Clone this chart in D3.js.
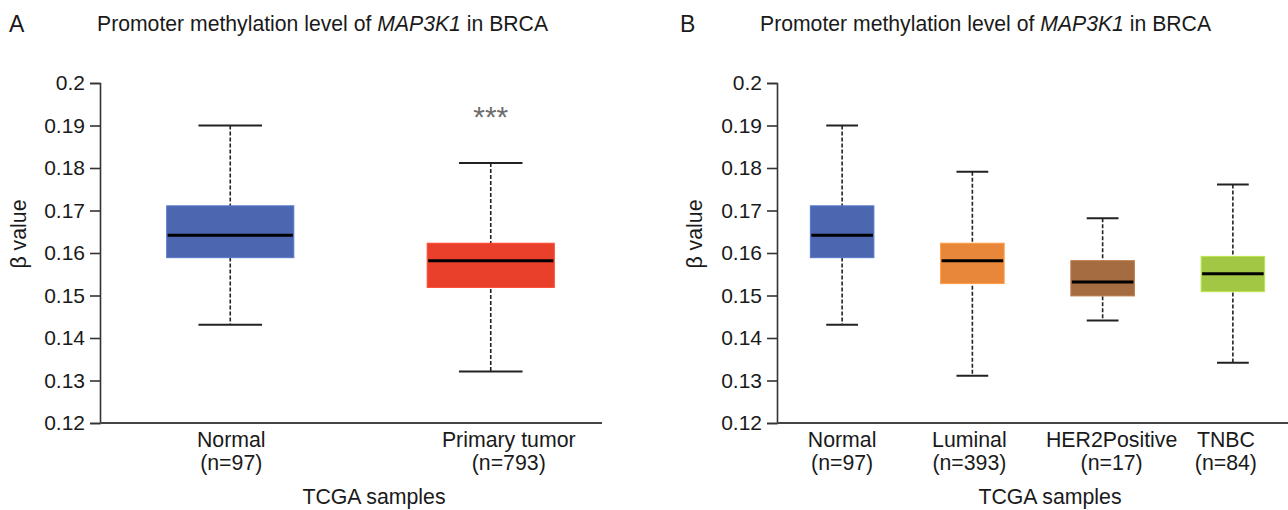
<!DOCTYPE html>
<html>
<head>
<meta charset="utf-8">
<script src="https://cdn.jsdelivr.net/npm/d3@7"></script>
<style>
  html, body { margin: 0; padding: 0; background: #fff; }
  svg { display: block; font-family: "Liberation Sans", Arial, sans-serif; }
</style>
</head>
<body>
<svg id="chart" width="1288" height="510"></svg>
<script>
// ─── DONNÉES ─────────────────────────────────────────────────────────────────
const yTicks = [0.12, 0.13, 0.14, 0.15, 0.16, 0.17, 0.18, 0.19, 0.2];

// Panel A : Normal vs Primary tumor
const groupsA = ["Normal", "Primary tumor"];
const countsA = [97, 793];
const lowA  = [0.1431, 0.1321];
const q1A   = [0.1589, 0.1519];
const medA  = [0.1642, 0.1582];
const q3A   = [0.1711, 0.1623];
const highA = [0.1900, 0.1812];

// Panel B : sous-types
const groupsB = ["Normal", "Luminal", "HER2Positive", "TNBC"];
const countsB = [97, 393, 17, 84];
const lowB  = [0.1431, 0.1311, 0.1441, 0.1342];
const q1B   = [0.1589, 0.1528, 0.1499, 0.1509];
const medB  = [0.1642, 0.1582, 0.1532, 0.1551];
const q3B   = [0.1711, 0.1623, 0.1582, 0.1592];
const highB = [0.1900, 0.1791, 0.1682, 0.1761];

// ─── COULEURS ────────────────────────────────────────────────────────────────
const boxColors = {
    "Normal": "#4C67B0",
    "Primary tumor": "#E8402B",
    "Luminal": "#E8873A",
    "HER2Positive": "#A56C42",
    "TNBC": "#A2C745"
};

const svg = d3.select("#chart");
const FONT = 21.3;

function drawPanel(cfg) {
    const g = svg.append("g");

    const y = d3.scaleLinear().domain([0.12, 0.2]).range([423, 83]);
    const x = d3.scaleBand().domain(cfg.groups).range([cfg.left, cfg.bandRight]);
    const boxW = x.step() * 0.488;

    const rows = cfg.groups.map((name, i) => ({
        name, n: cfg.counts[i], shift: cfg.labelShift[i],
        low: cfg.low[i], q1: cfg.q1[i], med: cfg.med[i], q3: cfg.q3[i], high: cfg.high[i]
    }));

    // Axe Y
    g.append("g")
        .attr("transform", `translate(${cfg.left},0)`)
        .call(d3.axisLeft(y).tickValues(yTicks).tickSize(10).tickPadding(5)
            .tickFormat(d3.format(".2~f")))
        .call(a => a.select(".domain").attr("stroke", "#333").attr("stroke-width", 1.6))
        .call(a => a.selectAll(".tick line").attr("stroke", "#333").attr("stroke-width", 1.6))
        .call(a => a.selectAll("text")
            .attr("font-size", 21).attr("fill", "#1a1a1a")
            .attr("font-family", "'Liberation Sans', Arial, sans-serif"));

    // Axe X (simple ligne)
    g.append("line")
        .attr("x1", cfg.left).attr("x2", cfg.axisRight)
        .attr("y1", y(0.12)).attr("y2", y(0.12))
        .attr("stroke", "#444").attr("stroke-width", 1.8);

    const box = g.selectAll(".box").data(rows).enter().append("g").attr("class", "box");
    const cx = d => x(d.name) + x.bandwidth() / 2;

    // Moustaches pointillées
    box.append("line")
        .attr("x1", cx).attr("x2", cx)
        .attr("y1", d => y(d.high)).attr("y2", d => y(d.low))
        .attr("stroke", "#222").attr("stroke-width", 1.6)
        .attr("stroke-dasharray", "4,2");

    // Extrémités
    ["low", "high"].forEach(k => {
        box.append("line")
            .attr("x1", d => cx(d) - boxW / 4).attr("x2", d => cx(d) + boxW / 4)
            .attr("y1", d => y(d[k])).attr("y2", d => y(d[k]))
            .attr("stroke", "#222").attr("stroke-width", 2);
    });

    // Boîtes
    box.append("rect")
        .attr("x", d => cx(d) - boxW / 2)
        .attr("width", boxW)
        .attr("y", d => y(d.q3))
        .attr("height", d => y(d.q1) - y(d.q3))
        .attr("fill", d => boxColors[d.name])
        .attr("stroke", d => d3.color(boxColors[d.name]).brighter(0.4))
        .attr("stroke-width", 1);

    // Médianes
    box.append("line")
        .attr("x1", d => cx(d) - boxW / 2 + 1).attr("x2", d => cx(d) + boxW / 2 - 1)
        .attr("y1", d => y(d.med)).attr("y2", d => y(d.med))
        .attr("stroke", "#000").attr("stroke-width", 3);

    // Étiquettes des groupes (légèrement décalées comme dans l'original)
    const lx = d => cx(d) + d.shift;
    const lab = g.selectAll(".lab").data(rows).enter().append("text")
        .attr("text-anchor", "middle")
        .attr("font-size", FONT).attr("fill", "#1a1a1a");
    lab.append("tspan").attr("x", lx).attr("y", 447).text(d => d.name);
    lab.append("tspan").attr("x", lx).attr("y", 470).text(d => `(n=${d.n})`);

    // Titre de l'axe X
    g.append("text")
        .attr("x", cfg.xTitleX).attr("y", 504)
        .attr("text-anchor", "middle")
        .attr("font-size", FONT).attr("fill", "#1a1a1a")
        .text("TCGA samples");

    // Titre de l'axe Y
    g.append("text")
        .attr("transform", `translate(${cfg.yTitleX},234) rotate(-90)`)
        .attr("text-anchor", "middle")
        .attr("font-size", FONT).attr("fill", "#1a1a1a")
        .text("β value");

    // Titre
    const t = g.append("text")
        .attr("x", cfg.titleX).attr("y", 31)
        .attr("font-size", 21.2).attr("fill", "#1a1a1a");
    t.append("tspan").text("Promoter methylation level of ");
    t.append("tspan").attr("font-style", "italic").text("MAP3K1");
    t.append("tspan").text(" in BRCA");

    // Lettre du panneau
    g.append("text")
        .attr("x", cfg.letterX).attr("y", 32)
        .attr("font-size", 23).attr("fill", "#1a1a1a")
        .text(cfg.letter);

    return { x, y, cx };
}

const pA = drawPanel({
    letter: "A", letterX: 9, titleX: 97,
    groups: groupsA, counts: countsA, labelShift: [1, 18],
    low: lowA, q1: q1A, med: medA, q3: q3A, high: highA,
    left: 100, bandRight: 621, axisRight: 602,
    xTitleX: 374, yTitleX: 26
});

drawPanel({
    letter: "B", letterX: 680, titleX: 760,
    groups: groupsB, counts: countsB, labelShift: [0, -3, 9, -7],
    low: lowB, q1: q1B, med: medB, q3: q3B, high: highB,
    left: 777, bandRight: 1298, axisRight: 1288,
    xTitleX: 1050, yTitleX: 702
});

// Significativité
svg.append("text")
    .attr("x", pA.x("Primary tumor") + pA.x.bandwidth() / 2)
    .attr("y", 127)
    .attr("text-anchor", "middle")
    .attr("font-size", 30).attr("fill", "#6e6e6e")
    .text("***");
</script>
</body>
</html>
